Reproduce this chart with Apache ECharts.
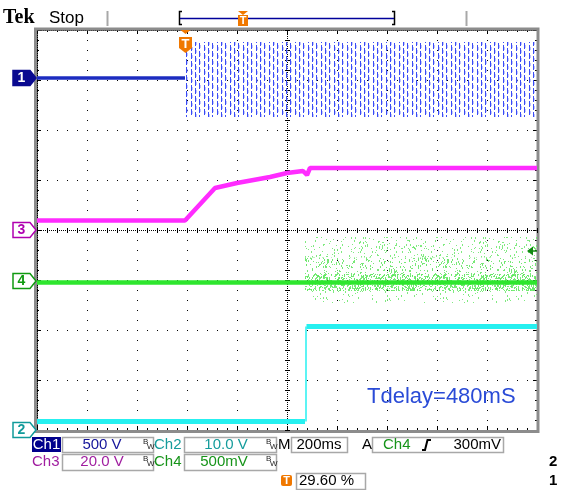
<!DOCTYPE html>
<html><head><meta charset="utf-8">
<script src="https://cdn.jsdelivr.net/npm/echarts@6/dist/echarts.min.js"></script>
<style>html,body{margin:0;padding:0;background:#fff}#c{width:561px;height:490px}</style>
</head><body><div id="c"></div>
<script>
// Time: ms from the left edge of the screen (200 ms/div, 10 div). Level: screen divisions (8 div, centre = 0).
const timeRange = [0, 2000];
const levelRange = [-4, 4];
const ch1FlatTime = [0, 592];
const ch1FlatLevel = [3.04, 3.04];
const ch1Burst = [596, 2000, 2.26, 3.76];          // start, end, low, high
const ch3Time  = [0, 592, 712, 800, 932, 1000, 1064, 1080, 1092, 2000];
const ch3Level = [0.19, 0.19, 0.84, 0.94, 1.06, 1.14, 1.18, 1.10, 1.24, 1.24];
const ch4Time  = [0, 2000];
const ch4Level = [-1.05, -1.05];
const ch4NoiseTop    = [1072, 2000, -0.55, -0.14];
const ch4NoiseMid    = [1072, 2000, -0.88, -0.55];
const ch4NoiseDense  = [1072, 2000, -1.22, -0.88];
const ch4NoiseBelow  = [1072, 2000, -1.46, -1.22];
const ch2LowTime  = [0, 1072];   const ch2LowLevel  = [-3.83, -3.83];
const ch2EdgeTime = [1076, 1076]; const ch2EdgeLevel = [-3.83, -1.93];
const ch2HighTime = [1078, 2000]; const ch2HighLevel = [-1.93, -1.93];
const annotation = 'Tdelay=480mS';

const zip = (a, b) => a.map((v, i) => [v, b[i]]);

function burstPattern() {
  const c = document.createElement('canvas'); c.width = 13; c.height = 72;
  const g = c.getContext('2d');
  const cols = [0, 4, 9], ph = [0, 3, 5];
  cols.forEach((x, i) => {
    for (let y = -8; y < 72; y += 8) {
      g.fillStyle = 'rgba(58,76,246,1)'; g.fillRect(x, y + ph[i], 1, 6);
      g.fillStyle = 'rgba(140,152,255,0.55)'; g.fillRect(x + 1, y + ph[i] + 2, 1, 3);
    }
  });
  return c;
}
// deterministic speckle texture (style only, not data)
function speckPattern(n, color, seed) {
  const W = 120, H = 40;
  const c = document.createElement('canvas'); c.width = W; c.height = H;
  const g = c.getContext('2d');
  let s = seed;
  const rnd = () => (s = (s * 1103515245 + 12345) & 0x7fffffff) / 0x7fffffff;
  g.fillStyle = color;
  for (let i = 0; i < n; i++) {
    const x = Math.floor(rnd() * W), y = Math.floor(rnd() * H);
    g.fillRect(x, y, 1, rnd() < 0.5 ? 1 : 2);
  }
  return { image: c, repeat: 'repeat' };
}
const burstFill = { image: burstPattern(), repeat: 'repeat' };
const topFill = speckPattern(300, 'rgba(115,232,115,0.9)', 7);
const midFill = speckPattern(480, 'rgba(105,230,105,0.9)', 19);
const denseFill = speckPattern(1500, 'rgba(95,232,95,0.85)', 31);
const belowFill = speckPattern(170, 'rgba(115,232,115,0.9)', 43);

function bandSeries(band, fill) {
  return {
    type: 'custom', data: [band], encode: { x: [0, 1], y: [2, 3] }, z: 3, silent: true,
    renderItem: (params, api) => {
      const p0 = api.coord([api.value(0), api.value(3)]);
      const p1 = api.coord([api.value(1), api.value(2)]);
      return { type: 'rect', shape: { x: p0[0], y: p0[1], width: p1[0] - p0[0], height: p1[1] - p0[1] }, style: { fill: fill } };
    }
  };
}
function trace(data, color, width, z) {
  return { type: 'line', data: data, symbol: 'none', silent: true, animation: false, z: z || 4,
    lineStyle: { color: color, width: width, cap: 'butt' } };
}

const gx = 37, gy = 30, gw = 500, gh = 400;
const el = [];
// frame
el.push({ type: 'rect', shape: { x: 35.5, y: 29, width: 502.5, height: 402.5 }, style: { fill: 'none', stroke: '#8c8c8c', lineWidth: 3 }, z: 1 });
// centre cross
const cx = gx + gw / 2, cy = gy + gh / 2;
el.push({ type: 'line', shape: { x1: gx, y1: cy + 0.5, x2: gx + gw, y2: cy + 0.5 }, style: { stroke: '#000', lineWidth: 1, lineDash: [1, 1] }, z: 1 });
el.push({ type: 'line', shape: { x1: cx + 0.5, y1: gy, x2: cx + 0.5, y2: gy + gh }, style: { stroke: '#000', lineWidth: 1, lineDash: [1, 1] }, z: 1 });
for (let x = gx; x <= gx + gw; x += 10) el.push({ type: 'line', shape: { x1: x + 0.5, y1: cy - 2, x2: x + 0.5, y2: cy + 3 }, style: { stroke: '#000', lineWidth: 1 }, z: 1 });
for (let y = gy; y <= gy + gh; y += 10) el.push({ type: 'line', shape: { x1: cx - 2, y1: y + 0.5, x2: cx + 3, y2: y + 0.5 }, style: { stroke: '#000', lineWidth: 1 }, z: 1 });

// header
el.push({ type: 'text', style: { x: 3, y: 18, text: 'Tek', font: 'bold 20px "Liberation Serif"', fill: '#000', verticalAlign: 'middle' } });
el.push({ type: 'text', style: { x: 49, y: 18, text: 'Stop', font: '17px "Liberation Sans"', fill: '#000', verticalAlign: 'middle' } });
el.push({ type: 'line', shape: { x1: 107.5, y1: 11, x2: 107.5, y2: 26 }, style: { stroke: '#a8a8a8', lineWidth: 2 } });
el.push({ type: 'line', shape: { x1: 466.5, y1: 11, x2: 466.5, y2: 26 }, style: { stroke: '#a8a8a8', lineWidth: 2 } });
el.push({ type: 'polyline', shape: { points: [[182, 11.5], [179.5, 11.5], [179.5, 24.5], [182, 24.5]] }, style: { stroke: '#000', lineWidth: 1.5, fill: 'none' } });
el.push({ type: 'polyline', shape: { points: [[392, 11.5], [394.5, 11.5], [394.5, 24.5], [392, 24.5]] }, style: { stroke: '#000', lineWidth: 1.5, fill: 'none' } });
el.push({ type: 'line', shape: { x1: 180, y1: 18.5, x2: 394, y2: 18.5 }, style: { stroke: '#00009a', lineWidth: 1.5 } });
const orange = '#f07800';
function tIcon(xc, ytop, small) {
  el.push({ type: 'polygon', shape: { points: [[xc - 5, ytop], [xc + 5, ytop], [xc, ytop + 4]] }, style: { fill: orange }, z: 6 });
  const top = ytop + (small ? 4 : 7), h = small ? 11 : 13, w = small ? 10 : 13;
  el.push({ type: 'polygon', shape: { points: small ? [[xc - w / 2, top], [xc + w / 2, top], [xc + w / 2, top + h], [xc - w / 2, top + h]] : [[xc - w / 2, top], [xc + w / 2, top], [xc + w / 2, top + h - 2], [xc, top + h + 3], [xc - w / 2, top + h - 2]] }, style: { fill: orange }, z: 6 });
  el.push({ type: 'text', style: { x: xc, y: top + h / 2 + 0.5, text: 'T', font: 'bold ' + (small ? 11 : 13) + 'px "Liberation Sans"', fill: '#fff', align: 'center', verticalAlign: 'middle' }, z: 7 });
}
tIcon(243, 11, true);
tIcon(185.5, 30, false);

// channel ground markers
function marker(yc, color, label, filled) {
  el.push({ type: 'polygon', shape: { points: [[13, yc - 7.5], [30, yc - 7.5], [36, yc], [30, yc + 7.5], [13, yc + 7.5]] },
    style: { fill: filled ? color : '#fff', stroke: color, lineWidth: 1.5 }, z: 6 });
  el.push({ type: 'text', style: { x: 21.5, y: yc + 0.5, text: label, font: 'bold 14px "Liberation Sans"', fill: filled ? '#fff' : color, align: 'center', verticalAlign: 'middle' }, z: 7 });
}
marker(78, '#0a0a90', '1', true);
marker(230, '#b000b0', '3', false);
marker(281, '#109a10', '4', false);
marker(430, '#109a9a', '2', false);
// trigger level arrow
el.push({ type: 'polygon', shape: { points: [[527, 251], [533, 246.5], [533, 255.5]] }, style: { fill: '#108a10' }, z: 6 });
el.push({ type: 'line', shape: { x1: 532, y1: 251, x2: 537, y2: 251 }, style: { stroke: '#108a10', lineWidth: 1.5 }, z: 6 });

// annotation
el.push({ type: 'text', style: { x: 367, y: 397, text: annotation, font: '22px "Liberation Sans"', fill: '#2a4bd7', verticalAlign: 'middle' }, z: 8 });

// readouts
const F = '15px "Liberation Sans"';
function box(x, y, w, h) { el.push({ type: 'rect', shape: { x: x + 0.5, y: y + 0.5, width: w, height: h }, style: { fill: '#fff', stroke: '#a8a8a8', lineWidth: 1.5 } }); }
function txt(x, y, s, color, align, font) { el.push({ type: 'text', style: { x: x, y: y, text: s, font: font || F, fill: color, align: align || 'left', verticalAlign: 'middle' }, z: 5 }); }
function bw(x, y) { txt(x, y - 3, 'B', '#222', 'left', '8px "Liberation Sans"'); txt(x + 4, y + 2, 'W', '#222', 'left', '8px "Liberation Sans"'); }
const cNavy = '#14149a', cTeal = '#159c9c', cPurple = '#a01ea0', cGreen = '#17941a';
const r1 = 445, r2 = 462, r3 = 481;
el.push({ type: 'rect', shape: { x: 32, y: 437, width: 29, height: 15 }, style: { fill: '#00008c' } });
txt(46.5, r1, 'Ch1', '#fff', 'center');
box(62, 437, 91, 15); txt(102, r1, '500 V', cNavy, 'center'); bw(143, r1);
txt(154, r1, 'Ch2', cTeal);
box(184, 437, 92, 15); txt(226, r1, '10.0 V', cTeal, 'center'); bw(266, r1);
txt(278, r1, 'M', '#000');
box(291, 437, 56, 15); txt(319, r1, '200ms', '#000', 'center');
txt(362, r1, 'A', '#000');
box(372, 437, 131, 15); txt(383, r1, 'Ch4', cGreen);
el.push({ type: 'polyline', shape: { points: [[422, 450], [425, 450], [427.5, 440], [431, 440]] }, style: { stroke: '#000', lineWidth: 2, fill: 'none' }, z: 5 });
txt(501, r1, '300mV', '#000', 'right');
txt(32, r2, 'Ch3', cPurple);
box(62, 454, 91, 16); txt(102, r2, '20.0 V', cPurple, 'center'); bw(143, r2);
txt(154, r2, 'Ch4', cGreen);
box(184, 454, 92, 16); txt(224, r2, '500mV', cGreen, 'center'); bw(266, r2);
el.push({ type: 'rect', shape: { x: 281, y: 475, width: 11, height: 11, r: 2 }, style: { fill: orange } });
txt(286.5, 481, 'T', '#fff', 'center', 'bold 11px "Liberation Sans"');
box(296, 473, 69, 16); txt(299, r3, '29.60 %', '#000');
txt(549, r2, '2', '#000', 'left', 'bold 15px "Liberation Sans"');
txt(549, r3, '1', '#000', 'left', 'bold 15px "Liberation Sans"');

const axisCommon = {
  type: 'value', axisLabel: { show: false },
  axisLine: { show: true, onZero: false, lineStyle: { color: '#000', width: 1, type: [1, 1] } },
  axisTick: { show: true, inside: true, length: 4, lineStyle: { color: '#000' } },
  minorTick: { show: true, splitNumber: 5, length: 2, lineStyle: { color: '#000' } },
};
const xA = (pos, split) => Object.assign({}, axisCommon, { position: pos, min: timeRange[0], max: timeRange[1], interval: 200,
  splitLine: { show: split, lineStyle: { color: '#000', type: [1, 9] } } });
const yA = (pos, split) => Object.assign({}, axisCommon, { position: pos, min: levelRange[0], max: levelRange[1], interval: 1,
  splitLine: { show: split, lineStyle: { color: '#000', type: [1, 9] } } });

const chart = echarts.init(document.getElementById('c'), null, { renderer: 'canvas' });
chart.setOption({
  animation: false,
  backgroundColor: '#fff',
  grid: { left: gx, top: gy, width: gw, height: gh },
  xAxis: [xA('bottom', true), xA('top', false)],
  yAxis: [yA('left', true), yA('right', false)],
  series: [
    trace(zip(ch1FlatTime, ch1FlatLevel), '#1c2cc0', 3.5),
    bandSeries(ch1Burst, burstFill),
    trace(zip(ch3Time, ch3Level), '#ff2cff', 4.5),
    bandSeries(ch4NoiseTop, topFill),
    bandSeries(ch4NoiseMid, midFill),
    bandSeries(ch4NoiseDense, denseFill),
    bandSeries(ch4NoiseBelow, belowFill),
    trace(zip(ch4Time, ch4Level), '#2ee62e', 4.5),
    trace(zip(ch2LowTime, ch2LowLevel), '#26f0f0', 5),
    trace(zip(ch2EdgeTime, ch2EdgeLevel), '#26f0f0', 1.5),
    trace(zip(ch2HighTime, ch2HighLevel), '#26f0f0', 5)
  ],
  graphic: { elements: el }
});
</script></body></html>
